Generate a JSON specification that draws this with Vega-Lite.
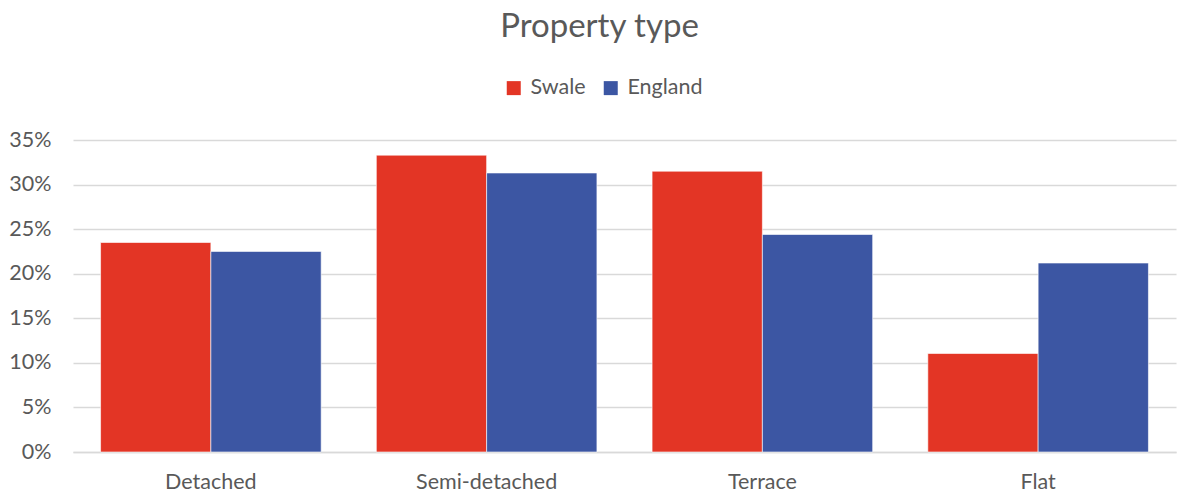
{
  "$schema": "https://vega.github.io/schema/vega-lite/v6.json",
  "width": 1103,
  "height": 312,
  "autosize": {"type": "none"},
  "padding": {"left": 73, "top": 140, "right": 2, "bottom": 45},
  "background": "white",
  "title": {"text": "Property type", "fontSize": 33, "font": "Lato", "fontWeight": "normal", "color": "#595959", "anchor": "middle", "dx": -25, "offset": 33},
  "data": {"values": [
    {"type": "Detached", "area": "Swale", "value": 0.235},
    {"type": "Detached", "area": "England", "value": 0.225},
    {"type": "Semi-detached", "area": "Swale", "value": 0.333},
    {"type": "Semi-detached", "area": "England", "value": 0.313},
    {"type": "Terrace", "area": "Swale", "value": 0.315},
    {"type": "Terrace", "area": "England", "value": 0.244},
    {"type": "Flat", "area": "Swale", "value": 0.1105},
    {"type": "Flat", "area": "England", "value": 0.212}
  ]},
  "mark": {"type": "bar", "stroke": "#ffffff", "strokeOpacity": 0.6, "strokeWidth": 1},
  "encoding": {
    "x": {"field": "type", "type": "nominal", "sort": ["Detached", "Semi-detached", "Terrace", "Flat"],
      "scale": {"paddingInner": 0.2, "paddingOuter": 0.1},
      "axis": {"title": null, "labelAngle": 0, "labelFont": "Lato", "labelFontSize": 21.5, "labelColor": "#595959", "labelPadding": 19, "ticks": false, "domainColor": "#d9d9d9", "domainWidth": 1.5}},
    "xOffset": {"field": "area", "type": "nominal", "sort": ["Swale", "England"], "scale": {"paddingInner": 0, "paddingOuter": 0}},
    "y": {"field": "value", "type": "quantitative", "scale": {"domain": [0, 0.35]},
      "axis": {"title": null, "format": ".0%", "values": [0, 0.05, 0.1, 0.15, 0.2, 0.25, 0.3, 0.35], "labelOverlap": false, "labelFont": "Lato", "labelFontSize": 21.5, "labelColor": "#595959", "labelPadding": 22, "ticks": false, "domain": false, "gridColor": "#d9d9d9", "gridWidth": 1.5}},
    "color": {"field": "area", "type": "nominal", "sort": ["Swale", "England"],
      "scale": {"domain": ["Swale", "England"], "range": ["#e33525", "#3c56a3"]},
      "legend": {"title": null, "orient": "none", "legendX": 430, "legendY": -63, "direction": "horizontal", "symbolType": "square", "symbolSize": 196, "symbolStrokeWidth": 0, "symbolOpacity": 1, "labelFont": "Lato", "labelFontSize": 21.5, "labelColor": "#595959", "columnPadding": 14, "labelOffset": 6}}
  },
  "config": {"view": {"stroke": null}}
}
